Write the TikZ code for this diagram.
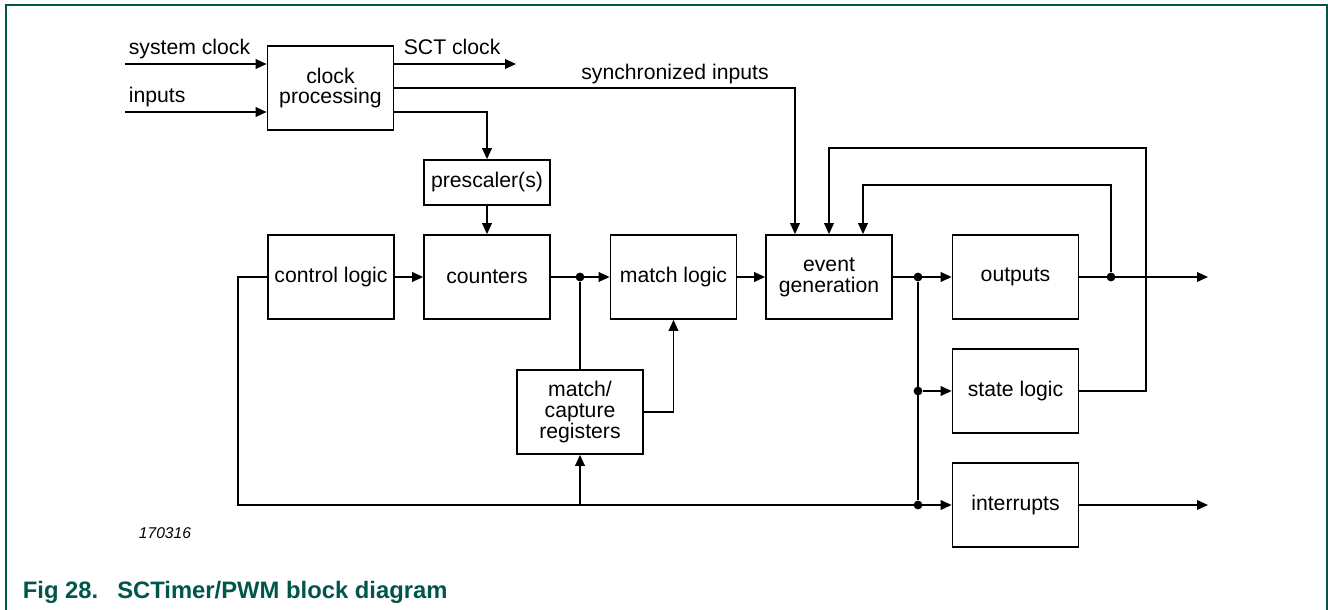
\documentclass[tikz,border=0pt]{standalone}
\usepackage{fontspec}
\setmainfont{Liberation Sans}
\usetikzlibrary{arrows.meta, positioning, calc}
\definecolor{figgreen}{RGB}{0,87,73}

\begin{document}
\begin{tikzpicture}[x=0.5pt,y=-0.5pt,>={Triangle[length=5.5pt,width=4.8pt]},line width=0.85pt,
        block/.style={draw,minimum width=63pt,minimum height=42pt,inner sep=0pt,align=center,font=\fontsize{10.6}{10.4}\selectfont},
        small block/.style={block,minimum height=22.5pt},
        lbl/.style={inner sep=0pt,font=\fontsize{10.6}{10.4}\selectfont},
        dot/.style={circle,fill,inner sep=0pt,minimum size=4.4pt}]
        \useasboundingbox (0,0) rectangle (1328,610);
        \draw[figgreen,line width=0.75pt] (6,610) -- (6,5) -- (1327,5) -- (1327,610);

        \node[block] (clk) at (330.5,88) {clock\\processing};
        \node[small block] (pre) at (487,182.5) {prescaler(s)};
        \node[block] (ctrl) at (331,277) {control logic};
        \node[block] (cnt) at (487,277) {counters};
        \node[block] (mlog) at (673.5,277) {match logic};
        \node[block] (evt) at (829,277) {event\\generation};
        \node[block] (outp) at (1015.5,277) {outputs};
        \node[block] (state) at (1015.5,391) {state logic};
        \node[block] (intr) at (1015.5,505) {interrupts};
        \node[block] (mcr) at (580,412) {match/\\capture\\registers};

        \coordinate (sysin) at (125,64);
        \coordinate (inin) at (125,112);
        \coordinate (sctout) at (516,64);
        \coordinate (outend) at (1208,277);
        \coordinate (intend) at (1208,505);
        \coordinate (ctrlturn) at (238,505);

        \node[lbl,anchor=base west] (syslbl) at (128,55) {system clock};
        \node[lbl,anchor=base west] (inlbl) at (128,103) {inputs};
        \node[lbl,anchor=base west] (sctlbl) at (403,55) {SCT clock};
        \node[lbl,anchor=base] (synclbl) at (675,80) {synchronized inputs};

        \node[dot] (d1) at (580,277) {};
        \node[dot] (d2) at (918,277) {};
        \node[dot] (d3) at (918,391) {};
        \node[dot] (d4) at (918,505) {};
        \node[dot] (d5) at (1111,277) {};

        \draw[->] (sysin) -- (sysin -| clk.west);
        \draw[->] (inin) -- (inin -| clk.west);
        \draw[->] (sctout -| clk.east) -- (sctout);
        \draw[->] (clk.east) -| ($(evt.north)+(-34,0)$);
        \draw[->] (inin -| clk.east) -| (pre.north);
        \draw[->] (pre.south) -- (cnt.north);
        \draw[->] (ctrl.east) -- (cnt.west);
        \draw[->] (cnt.east) -- (mlog.west);
        \draw (d1) -- (mcr.north);
        \draw[->] (mcr.east) -| (mlog.south);
        \draw[->] (mlog.east) -- (evt.west);
        \draw[->] (evt.east) -- (outp.west);
        \draw[->] (outp.east) -- (outend);
        \draw[->] (d5) -- (1111,185) -| ($(evt.north)+(34,0)$);
        \draw[->] (state.east) -| (1146,148) -| (evt.north);
        \draw[->] (ctrl.west) -| (ctrlturn) -- (intr.west);
        \draw[->] (mcr.south |- ctrlturn) -- (mcr.south);
        \draw (d2) -- (d4);
        \draw[->] (d3) -- (state.west);
        \draw[->] (intr.east) -- (intend);

        \node[inner sep=0pt,font=\fontsize{7.8}{9}\selectfont\itshape] (figno) at (165,533) {170316};
        \node[inner sep=0pt,anchor=base west,text=figgreen,font=\fontsize{11.9}{14}\selectfont\bfseries] (cap) at (22,598) {Fig 28.\hspace{0.8em}SCTimer/PWM block diagram};
\end{tikzpicture}
\end{document}
